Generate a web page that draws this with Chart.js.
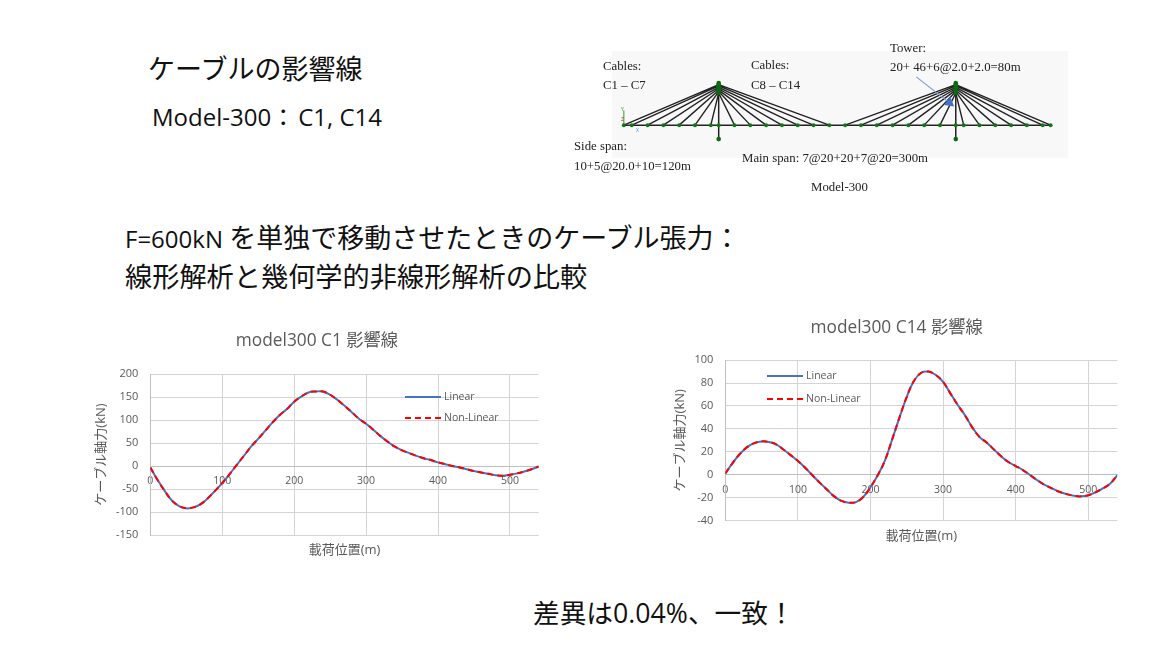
<!DOCTYPE html>
<html lang="ja">
<head>
<meta charset="utf-8">
<title>ケーブルの影響線</title>
<script src="https://cdn.jsdelivr.net/npm/chart.js@4"></script>
<style>
  html, body { margin: 0; padding: 0; background: #fff; }
  body { width: 1153px; height: 648px; position: relative; overflow: hidden; font-family: "Open Sans", "Noto Sans CJK JP", sans-serif; color: #111; }
  .t { position: absolute; white-space: nowrap; line-height: 1; }
  .s { position: absolute; white-space: nowrap; line-height: 1; font-family: "Liberation Serif", serif; font-size: 12.8px; color: #222; filter: blur(0.3px); }
  .m { position: absolute; line-height: 1; font-size: 5px; }
  canvas { position: absolute; }
</style>
</head>
<body>
<div class="t" style="left:148px;top:55px;font-size:27px">ケーブルの影響線</div>
<div class="t" style="left:152px;top:105px;font-size:24px">Model-300：<span style="margin-left:3px">C1, C14</span></div>
<div class="t" style="left:125px;top:224px;font-size:24px">F=600kN <span style="font-size:27px">を単独で移動させたときのケーブル張力：</span></div>
<div class="t" style="left:125px;top:263px;font-size:27.2px">線形解析と幾何学的非線形解析の比較</div>
<div class="t" style="left:533px;top:600px;font-size:26.7px">差異は0.04%、一致！</div>

<canvas id="bridge" width="456" height="107" style="left:612px;top:51px;background:#f8f8f8;filter:blur(0.4px)"></canvas>
<div class="m" style="left:621px;top:107px;color:#2a9a2a">Y</div>
<div class="m" style="left:621px;top:117px;color:#d02020">Z</div>
<div class="m" style="left:636px;top:128px;color:#3a9ae0">X</div>
<div class="s" style="left:603px;top:60px">Cables:</div>
<div class="s" style="left:603px;top:79px">C1 – C7</div>
<div class="s" style="left:751px;top:59px">Cables:</div>
<div class="s" style="left:751px;top:79px">C8 – C14</div>
<div class="s" style="left:890px;top:42px">Tower:</div>
<div class="s" style="left:890px;top:61px">20+ 46+6@2.0+2.0=80m</div>
<div class="s" style="left:574px;top:140px">Side span:</div>
<div class="s" style="left:574px;top:160px">10+5@20.0+10=120m</div>
<div class="s" style="left:742px;top:152px">Main span: 7@20+20+7@20=300m</div>
<div class="s" style="left:811px;top:181px">Model-300</div>

<canvas id="chartC1" width="474" height="240" style="left:80px;top:320px"></canvas>
<canvas id="chartC14" width="474" height="240" style="left:660px;top:310px"></canvas>

<script>
// load position (m)
const positions = [0,10,20,30,40,50,60,70,80,90,100,110,120,130,140,150,160,170,180,190,200,210,220,230,240,250,260,270,
  280,290,300,310,320,330,340,350,360,370,380,390,400,410,420,430,440,450,460,470,480,490,500,510,520,530,540];

// cable force (kN)
const c1Linear = [-3,-30,-54,-75,-87,-92,-90,-83,-70,-54,-37,-18,2,22,42,59,77,95,111,124,140,151,160,162,162,155,144,131,
  117,103,92,79,65,53,42,34,28,22,17,13,8,4,0,-3,-7,-11,-14,-17,-20,-21,-19,-16,-12,-7,-1];
const c1NonLinear = [-3,-30,-54,-75,-87,-92,-90,-83,-70,-54,-37,-18,2,22,42,59,77,95,111,124,140,151,160,162,162,155,144,131,
  117,103,92,79,65,53,42,34,28,22,17,13,8,4,0,-3,-7,-11,-14,-17,-20,-21,-19,-16,-12,-7,-1];
const c14Linear = [1,10,18,24,27.5,29,28.5,26.5,22,17,12,6,-0.5,-7,-13,-19,-23,-24.5,-24,-19.5,-11,-0.5,12.5,31,50,68,82,89,
  90,87,81,71,61,52,41.5,33,28,22,16,11,7.5,4,-0.5,-5,-9,-12,-15,-17,-18.5,-19,-18,-15.5,-12,-8,-0.5];
const c14NonLinear = [1,10,18,24,27.5,29,28.5,26.5,22,17,12,6,-0.5,-7,-13,-19,-23,-24.5,-24,-19.5,-11,-0.5,12.5,31,50,68,82,89,
  90,87,81,71,61,52,41.5,33,28,22,16,11,7.5,4,-0.5,-5,-9,-12,-15,-17,-18.5,-19,-18,-15.5,-12,-8,-0.5];

// bridge model (m)
const deckNodes = [0,10,30,50,70,90,110,120,140,160,180,200,220,240,260,280,300,320,340,360,380,400,420,430,450,470,490,510,530,540];
const towers = [120,420];
const towerFoot = -20;
const towerTop = 60;
const anchorHeights = [46,48,50,52,54,56,58];
const leftTowerSide = [110,90,70,50,30,10,0];
const leftTowerMain = [140,160,180,200,220,240,260];
const rightTowerMain = [400,380,360,340,320,300,280];
const rightTowerSide = [430,450,470,490,510,530,540];
const arrowX = [370,412];
const arrowY = [69,32];
const triadY = [0,21];

const fontFamily = '"Open Sans", "Noto Sans CJK JP", sans-serif';
const grey = "#595959";

function toPoints(xs, ys) {
  return xs.map((x, i) => ({ x: x, y: ys[i] }));
}

// legend sits inside the plot, so it is drawn by hand
const floatLegend = {
  id: "floatLegend",
  afterDraw(chart, args, opts) {
    const ctx = chart.ctx;
    chart.data.datasets.forEach((ds, i) => {
      const y = opts.y[i];
      ctx.save();
      ctx.strokeStyle = ds.borderColor;
      ctx.lineWidth = ds.borderWidth;
      ctx.setLineDash(ds.borderDash || []);
      ctx.beginPath();
      ctx.moveTo(opts.x, y);
      ctx.lineTo(opts.x + 36, y);
      ctx.stroke();
      ctx.setLineDash([]);
      ctx.fillStyle = grey;
      ctx.font = "10.5px " + fontFamily;
      ctx.textBaseline = "middle";
      ctx.fillText(ds.label, opts.x + 39, y);
      ctx.restore();
    });
  }
};

function influenceChart(id, title, linear, nonLinear, yMin, yMax, yStep, cfg) {
  return new Chart(document.getElementById(id).getContext("2d"), {
    type: "line",
    plugins: [floatLegend],
    data: {
      datasets: [
        { label: "Linear", order: 1, data: toPoints(positions, linear), borderColor: "#4472C4", borderWidth: 2, pointRadius: 0, tension: 0.4 },
        { label: "Non-Linear", order: 0, data: toPoints(positions, nonLinear), borderColor: "#FF0000", borderWidth: 2, borderDash: [6, 4], pointRadius: 0, tension: 0.4 }
      ]
    },
    options: {
      responsive: false,
      animation: false,
      layout: { autoPadding: false, padding: { left: cfg.left, right: cfg.right, top: 0, bottom: cfg.bottom } },
      plugins: {
        legend: { display: false },
        tooltip: { enabled: false },
        title: { display: true, text: title, color: grey, font: { family: fontFamily, size: 17.3, weight: "normal" }, padding: { top: cfg.titleTop, bottom: cfg.titleBottom } },
        subtitle: { display: true, position: "bottom", fullSize: false, text: "載荷位置(m)", color: grey, font: { family: fontFamily, size: 13, weight: "normal" }, padding: { top: cfg.subTop, bottom: 0 } },
        floatLegend: { x: cfg.legendX, y: cfg.legendY }
      },
      scales: {
        x: {
          type: "linear",
          position: { y: 0 },
          min: 0,
          max: 540,
          afterFit(scale) { scale.height = 0; },
          afterBuildTicks(scale) { scale.ticks = scale.ticks.filter(t => t.value % 100 === 0); },
          ticks: { stepSize: 100, color: grey, padding: 9, maxRotation: 0, font: { family: fontFamily, size: 10.5 } },
          grid: { color: "#D4D4D4", drawTicks: false },
          border: { color: "#BFBFBF" }
        },
        y: {
          min: yMin,
          max: yMax,
          afterFit(scale) { scale.width = cfg.yWidth; },
          ticks: { stepSize: yStep, color: grey, padding: 12, font: { family: fontFamily, size: 11 } },
          grid: { color: "#D4D4D4", drawTicks: false },
          border: { color: "#BFBFBF" },
          title: { display: true, text: "ケーブル軸力(kN)", color: grey, font: { family: fontFamily, size: 13 }, padding: { top: cfg.yTitleTop, bottom: 0 } }
        }
      }
    }
  });
}

influenceChart("chartC1", "model300 C1 影響線", c1Linear, c1NonLinear, -150, 200, 50, {
  left: 15.3, right: 15.3, bottom: 2, titleTop: 11, titleBottom: 22.3, subTop: 7.4, yWidth: 55, yTitleTop: -2, legendX: 325, legendY: [77, 98]
});
influenceChart("chartC14", "model300 C14 影響線", c14Linear, c14NonLinear, -40, 100, 20, {
  left: 16, right: 16.7, bottom: 6, titleTop: 7.7, titleBottom: 21.7, subTop: 8, yWidth: 49.3, yTitleTop: -3.8, legendX: 107, legendY: [66, 89]
});

// bridge elevation, same span scale as the load position
const cableData = [];
function addCables(towerX, anchors) {
  anchors.forEach((x, i) => {
    cableData.push({ x: x, y: 0 }, { x: towerX, y: anchorHeights[i] }, { x: NaN, y: NaN });
  });
}
addCables(towers[0], leftTowerSide);
addCables(towers[0], leftTowerMain);
addCables(towers[1], rightTowerMain);
addCables(towers[1], rightTowerSide);

const towerLines = [];
const towerNodes = [];
towers.forEach(x => {
  towerLines.push({ x: x, y: towerFoot }, { x: x, y: towerTop }, { x: NaN, y: NaN });
  towerNodes.push({ x: x, y: towerFoot }, { x: x, y: towerTop });
  anchorHeights.forEach(h => towerNodes.push({ x: x, y: h }));
});

// first dataset ends up on top
new Chart(document.getElementById("bridge").getContext("2d"), {
  type: "scatter",
  data: {
    datasets: [
      { data: toPoints(arrowX, arrowY), showLine: true, borderColor: "#7F9FD8", borderWidth: 1.2,
        pointRadius: [0, 6], pointStyle: "triangle", pointRotation: [0, 129], pointBackgroundColor: "#4472C4", pointBorderWidth: 0 },
      { data: towerNodes, pointRadius: 2.3, pointBackgroundColor: "#0B6A12", pointBorderWidth: 0 },
      { data: toPoints(deckNodes, deckNodes.map(() => 0)), showLine: true, borderColor: "#222", borderWidth: 1.5, pointRadius: 2, pointBackgroundColor: "#0B7A12", pointBorderWidth: 0 },
      { data: toPoints([0, 0], triadY), showLine: true, borderColor: "#2a9a2a", borderWidth: 1, pointRadius: 0 },
      { data: towerLines, showLine: true, borderColor: "#222", borderWidth: 1.5, pointRadius: 0, spanGaps: false },
      { data: cableData, showLine: true, borderColor: "#222", borderWidth: 1.4, pointRadius: 0, spanGaps: false }
    ]
  },
  options: {
    responsive: false,
    animation: false,
    layout: { autoPadding: false, padding: 0 },
    plugins: { legend: { display: false }, tooltip: { enabled: false }, title: { display: false } },
    scales: {
      x: { type: "linear", display: false, min: -15, max: 562 },
      y: { type: "linear", display: false, min: -47, max: 106 }
    }
  }
});
</script>
</body>
</html>
